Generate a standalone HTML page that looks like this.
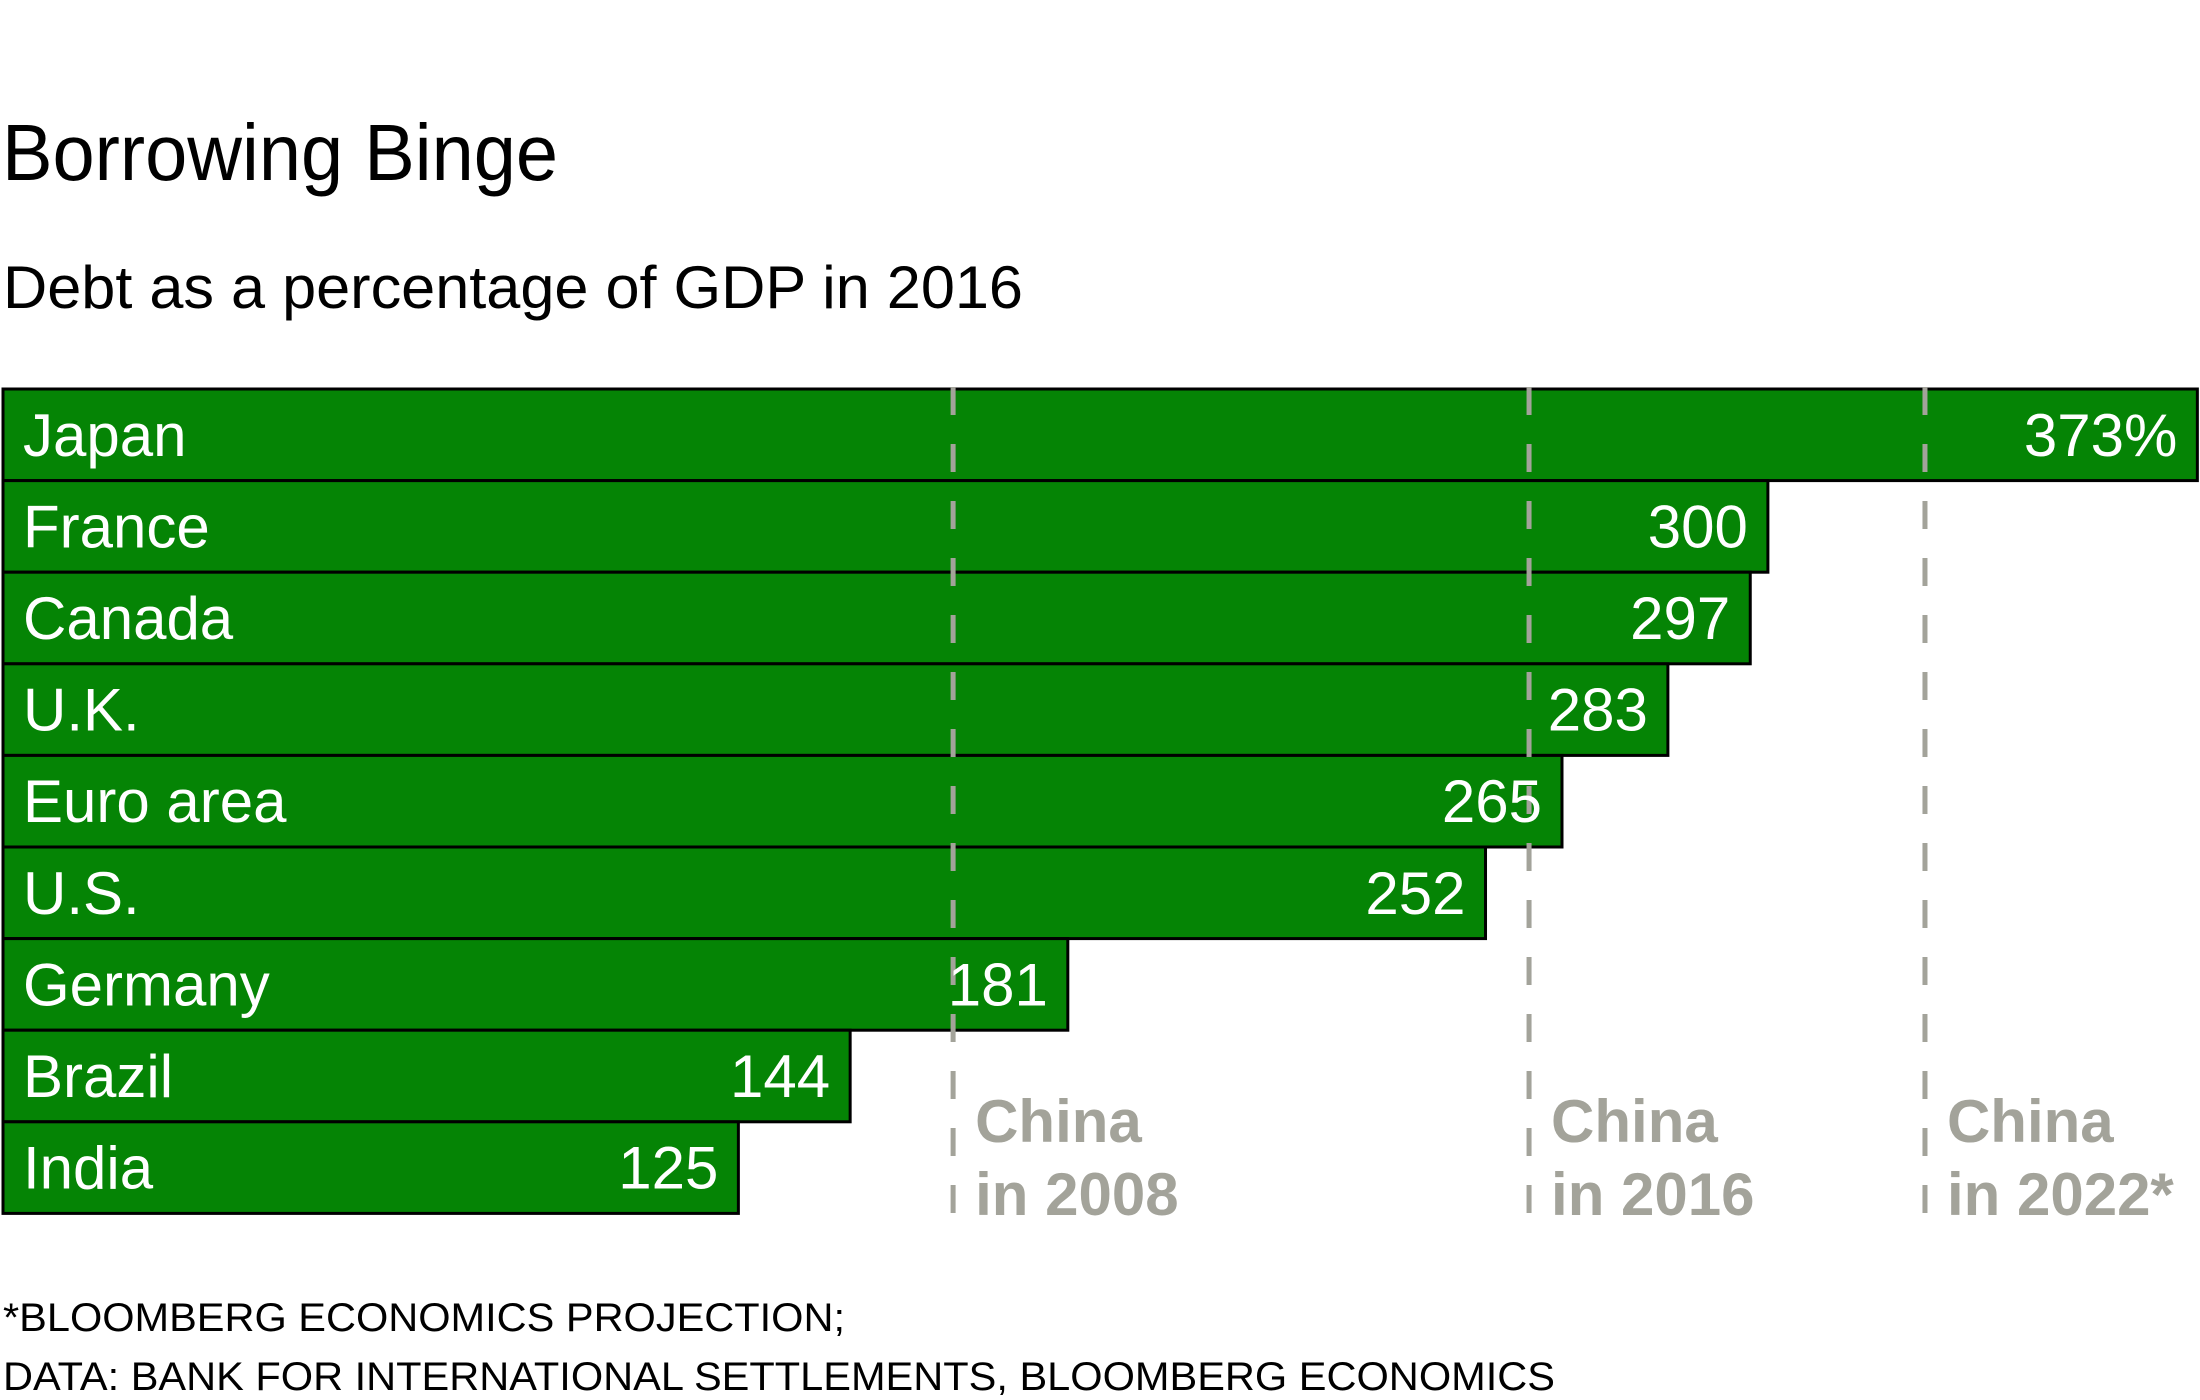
<!DOCTYPE html>
<html><head><meta charset="utf-8"><style>
html,body{margin:0;padding:0;background:#fff;}
svg{display:block;font-family:"Liberation Sans",sans-serif;}
</style></head><body>
<svg id="chart" width="2200" height="1400" viewBox="0 0 2200 1400" xmlns="http://www.w3.org/2000/svg">
<text x="2" y="180" font-size="80" fill="#000" textLength="556" lengthAdjust="spacingAndGlyphs">Borrowing Binge</text>
<text x="3" y="308" font-size="60" fill="#000" textLength="1020" lengthAdjust="spacingAndGlyphs">Debt as a percentage of GDP in 2016</text>
<g id="bars"></g>
<g id="refs"></g>
<text x="3" y="1331" font-size="40" fill="#000" textLength="842" lengthAdjust="spacingAndGlyphs">*BLOOMBERG ECONOMICS PROJECTION;</text>
<text x="3" y="1390" font-size="40" fill="#000" textLength="1552" lengthAdjust="spacingAndGlyphs">DATA: BANK FOR INTERNATIONAL SETTLEMENTS, BLOOMBERG ECONOMICS</text>
</svg>
<script>
const categories = ["Japan","France","Canada","U.K.","Euro area","U.S.","Germany","Brazil","India"];
const values = [373,300,297,283,265,252,181,144,125];
const valueLabels = ["373%","300","297","283","265","252","181","144","125"];
const refYears = ["2008","2016","2022*"];
const refValues = [161.5,259.4,326.7];

const NS="http://www.w3.org/2000/svg";
const x0=3, pxPerUnit=5.883, top0=389, pitch=91.6;
const xScale=v=>x0+v*pxPerUnit;
const yScale=i=>top0+i*pitch;
const barsG=document.getElementById('bars');
const refsG=document.getElementById('refs');
function mk(tag,attrs,parent){const e=document.createElementNS(NS,tag);for(const k in attrs)e.setAttribute(k,attrs[k]);parent.appendChild(e);return e;}

categories.forEach((c,i)=>{
  const y=yScale(i), w=xScale(values[i])-x0;
  const r=mk('rect',{x:x0,y:y,width:w,height:pitch,fill:'#058405',stroke:'#000','stroke-width':3},barsG);
  
  
});
const lineTop=yScale(0)-2, lineBot=yScale(categories.length);
refValues.forEach((v,i)=>{
  const x=xScale(v);
  const l=mk('line',{x1:x,x2:x,y1:lineTop,y2:lineBot+4,stroke:'#a3a39a','stroke-width':5,'stroke-dasharray':'28 29'},refsG);
  
  
  const t1=mk('text',{x:x+22,y:1142,'font-size':60,'font-weight':'bold',fill:'#a3a39a'},refsG);
  t1.textContent='China';
  
  
  const t2=mk('text',{x:x+22,y:1215,'font-size':60,'font-weight':'bold',fill:'#a3a39a'},refsG);
  t2.textContent='in '+refYears[i];
  
  
});
categories.forEach((c,i)=>{
  const yc=yScale(i)+pitch/2+21;
  const t=mk('text',{x:23,y:yc,'font-size':60,fill:'#fff'},refsG);
  t.textContent=c;
  
  
  const v=mk('text',{x:xScale(values[i])-20,y:yc,'font-size':60,fill:'#fff','text-anchor':'end'},refsG);
  v.textContent=valueLabels[i];
  
  
});
</script>
</body></html>
